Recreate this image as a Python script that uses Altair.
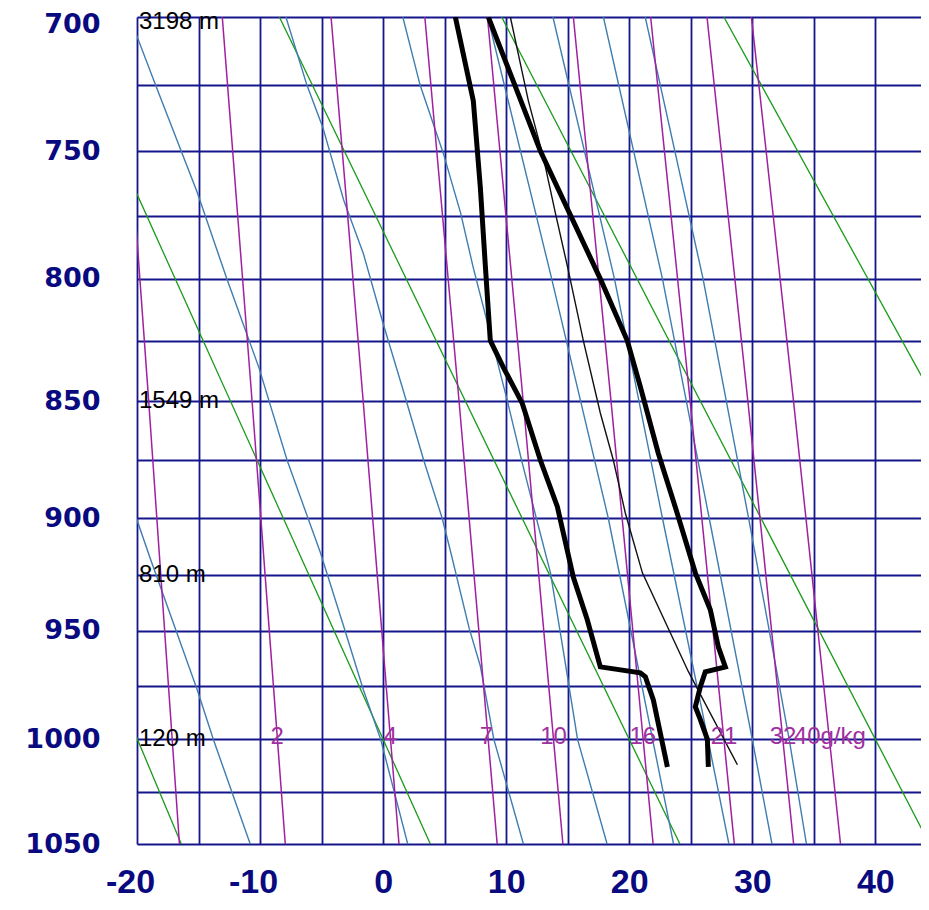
import altair as alt
import pandas as pd

# ---------------- axes ----------------
T_MIN, T_MAX = -20, 43.71
x_grid = list(range(-20, 45, 5))
p_grid = list(range(700, 1051, 25))

# ---------------- dry adiabats (green), T at 700 and 1050 hPa ----------------
dry_theta = [-20, 0, 20, 40, 60]
dry_T700 = [-44.55, -26.5, -8.43, 9.63, 27.69]
dry_T1050 = [-16.4, 3.84, 24.12, 44.4, 64.68]

# ---------------- mixing-ratio lines (purple), T at 700/850/1050 hPa ----------------
mix_w = [1, 2, 4, 7, 10, 16, 24, 32, 40]
mix_T700 = [-21.3, -13.07, -4.23, 3.39, 8.48, 15.46, 21.74, 26.32, 29.93]
mix_T850 = [-19.05, -10.65, -1.62, 6.17, 11.38, 18.52, 24.95, 29.64, 33.35]
mix_T1050 = [-16.55, -7.95, 1.29, 9.27, 14.61, 21.94, 28.54, 33.36, 37.17]
mix_label = ["2", "4", "7", "10", "16", "21", "32", "40g/kg"]
mix_label_T = [-8.6, 0.6, 8.4, 13.85, 21.1, 27.7, 32.5, 36.3]

# ---------------- moist adiabats (steel blue) ----------------
moist_260_T = [-22.0, -18.9, -15.1, -13.8, -10.8]
moist_260_p = [870, 918, 977, 1000, 1050]
moist_280_T = [-20.6, -18.5, -15.1, -12.7, -10.1, -7.8, -5.1, -3.2, -1.6, -0.2, 2.0]
moist_280_p = [700, 725, 766, 800, 836, 875, 915, 948, 977, 1000, 1050]
moist_300_T = [-7.9, -6.2, -4.9, -3.2, -1.6, 0.0, 1.6, 3.3, 4.8, 5.5, 7.0, 7.9, 9.0, 11.4]
moist_300_p = [700, 725, 741, 769, 790, 818, 845, 875, 900, 915, 949, 966, 1000, 1050]
moist_320_T = [1.6, 3.0, 4.9, 6.3, 7.3, 8.9, 10.1, 11.3, 12.5, 13.6, 14.7, 15.8, 18.2]
moist_320_p = [700, 725, 751, 774, 795, 826, 850, 876, 901, 924, 961, 1000, 1050]
moist_340_T = [8.5, 13.7, 18.3, 21.9, 23.6]
moist_360_T = [13.8, 18.8, 22.7, 26.4, 28.1]
moist_380_T = [17.9, 22.7, 26.5, 30.0, 31.6]
moist_400_T = [21.3, 26.0, 29.7, 33.0, 34.4]
moist_warm_p = [700, 800, 900, 1000, 1050]

# ---------------- sounding ----------------
temp_T = [8.55, 12.78, 17.65, 19.84, 20.90, 22.36, 23.91, 25.37, 26.59, 27.24, 27.81,
          26.18, 25.78, 25.37, 25.78, 26.35, 26.43]
temp_p = [700, 750, 800, 825, 844, 872, 898, 924, 940.5, 957.3, 966.4,
          968.7, 975.5, 984.8, 990.8, 1000, 1013]
dew_T = [5.87, 7.33, 7.90, 8.31, 8.71, 9.77, 11.31, 12.78, 14.16, 15.46, 16.59,
         17.65, 20.90, 21.31, 21.96, 23.10]
dew_p = [700, 731, 764, 795, 825, 836, 851, 875, 895, 926, 945,
         966.4, 969.1, 970.9, 981.6, 1013]
parcel_T = [28.79, 24.81, 21.07, 19.68, 18.71, 17.65, 16.27, 15.05, 14.0, 13.02, 11.80, 10.34]
parcel_p = [1012, 968.6, 924, 897.7, 875, 855, 825, 796.6, 774, 752.4, 730.9, 700]

# ---------------- height labels ----------------
hgt_p = [700, 850, 925, 1000]
hgt_label = ["3198 m", "1549 m", "810 m", "120 m"]

# ---------------- build tables ----------------
def lines_table(lines):
    rows = []
    for lid, (ts, ps) in enumerate(lines):
        for i, (t, p) in enumerate(zip(ts, ps)):
            rows.append({"id": lid, "i": i, "T": t, "p": p})
    return pd.DataFrame(rows)

dry_df = lines_table([([a, b], [700, 1050]) for a, b in zip(dry_T700, dry_T1050)])
mix_df = lines_table([([a, b, c], [700, 850, 1050])
                      for a, b, c in zip(mix_T700, mix_T850, mix_T1050)])
moist_df = lines_table([
    (moist_260_T, moist_260_p), (moist_280_T, moist_280_p),
    (moist_300_T, moist_300_p), (moist_320_T, moist_320_p),
    (moist_340_T, moist_warm_p), (moist_360_T, moist_warm_p),
    (moist_380_T, moist_warm_p), (moist_400_T, moist_warm_p)])
temp_df = lines_table([(temp_T, temp_p)])
dew_df = lines_table([(dew_T, dew_p)])
parcel_df = lines_table([(parcel_T, parcel_p)])
hgt_df = pd.DataFrame({"T": [-20] * len(hgt_p), "p": hgt_p, "label": hgt_label})
mixlab_df = pd.DataFrame({"T": mix_label_T, "p": [1000] * len(mix_label_T), "label": mix_label})

GRID = "#16168c"
NAVY = "#0a0a80"

xs = alt.Scale(domain=[T_MIN, T_MAX], nice=False, zero=False)
ys = alt.Scale(type="pow", exponent=0.286, domain=[700, 1050], reverse=True, nice=False, zero=False)

xaxis = alt.Axis(values=x_grid, title=None, grid=True, gridColor=GRID, gridWidth=1.8,
                 domain=False, ticks=False,
                 labelExpr="datum.value % 10 === 0 ? '' + datum.value : ''",
                 labelFont="Liberation Sans", labelFontWeight="bold", labelFontSize=34,
                 labelColor=NAVY, labelPadding=21, labelFlush=False, labelOverlap=False,
                 labelOffset={"condition": {"test": "datum.value < 0", "value": -7}, "value": 0})
yaxis = alt.Axis(values=p_grid, title=None, grid=True, gridColor=GRID, gridWidth=1.8,
                 domain=False, ticks=False,
                 labelExpr="datum.value % 50 === 0 ? '' + datum.value : ''",
                 labelFont="DejaVu Sans", labelFontWeight="bold", labelFontSize=27,
                 labelColor=NAVY, labelPadding=37, labelFlush=False, labelOverlap=False,
                 labelOffset={"condition": {"test": "datum.value === 700", "value": 7}, "value": 0})

X = alt.X("T:Q", scale=xs, axis=xaxis)
Y = alt.Y("p:Q", scale=ys, axis=yaxis)


def line_layer(df, color, width):
    return alt.Chart(df).mark_line(color=color, strokeWidth=width, clip=True).encode(
        x=X, y=Y, detail="id:N", order="i:Q")


green = line_layer(dry_df, "#1a9a1a", 1.3)
blue = line_layer(moist_df, "#3f7db0", 1.4)
purple = line_layer(mix_df, "#a020a0", 1.5)
parcel = line_layer(parcel_df, "#111111", 1.4)
temp = line_layer(temp_df, "#000000", 5)
dew = line_layer(dew_df, "#000000", 5)

hgt_top = alt.Chart(hgt_df.iloc[:1]).mark_text(
    align="left", baseline="middle", dx=2, dy=5, font="Liberation Sans", fontSize=24, color="#000000"
).encode(x=X, y=Y, text="label:N")
hgt_text = alt.Chart(hgt_df.iloc[1:]).mark_text(
    align="left", baseline="middle", dx=2, font="Liberation Sans", fontSize=24, color="#000000"
).encode(x=X, y=Y, text="label:N")

mix_text = alt.Chart(mixlab_df).mark_text(
    align="center", baseline="middle", dy=-2, font="Liberation Sans", fontSize=24, color="#a030a0"
).encode(x=X, y=Y, text="label:N")

chart = alt.layer(green, blue, purple, parcel, temp, dew, hgt_top, hgt_text, mix_text).properties(
    width=784, height=827,
    padding={"left": 129, "top": 9, "right": 0, "bottom": 56},
    autosize=alt.AutoSizeParams(type="none"),
).configure_view(strokeWidth=0)

chart.save("out.html", embed_options={"renderer": "svg", "actions": False})
